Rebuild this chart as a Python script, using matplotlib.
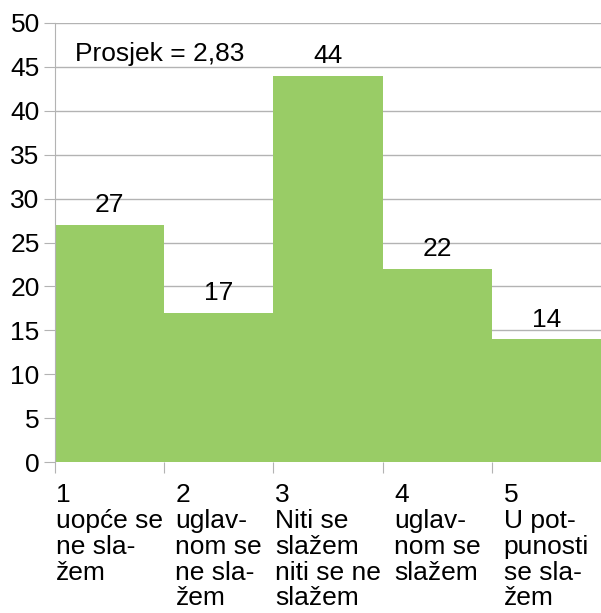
import matplotlib
matplotlib.use("Agg")
import matplotlib.pyplot as plt

plt.rcParams['font.family'] = ['Liberation Sans', 'DejaVu Sans']

categories = ["1\nuopće se\nne sla-\nžem",
              "2\nuglav-\nnom se\nne sla-\nžem",
              "3\nNiti se\nslažem\nniti se ne\nslažem",
              "4\nuglav-\nnom se\nslažem",
              "5\nU pot-\npunosti\nse sla-\nžem"]
values = [27, 17, 44, 22, 14]
yticks = list(range(0, 51, 5))
note = "Prosjek = 2,83"

FS = 19
W, H = 601, 613
fig = plt.figure(figsize=(W/100, H/100), dpi=100)
ax = fig.add_axes([55/W, (H-462)/H, (601-55)/W, (462-23)/H])

x = list(range(len(values)))
ax.bar(x, values, width=1.0, align='edge', color='#99cc66', zorder=2)
ax.set_xlim(0, len(values))
ax.set_ylim(0, 50)
ax.set_yticks(yticks)
ax.yaxis.grid(True, color='#b3b3b3', linewidth=1, zorder=0)
ax.set_xticks(x)
ax.set_xticklabels([])
ax.tick_params(axis='y', length=8, color='#b3b3b3', labelsize=FS, pad=3)
ax.tick_params(axis='x', length=8, color='#b3b3b3')
for s in ['top', 'right', 'bottom']:
    ax.spines[s].set_visible(False)
ax.spines['left'].set_color('#b3b3b3')

for xi, v in zip(x, values):
    ax.text(xi + 0.5, v + 0.85, str(v), ha='center', va='bottom', fontsize=FS)

for xi, lab in zip(x, categories):
    ax.annotate(lab, xy=(xi + 0.5, 0), xycoords='data', xytext=(0, -15),
                textcoords='offset points', ha='center', va='top',
                multialignment='left', fontsize=FS, linespacing=1.1)

ax.text(0.18, 46.5, note, ha='left', va='center', fontsize=FS)

fig.savefig("out.png", dpi=100)
